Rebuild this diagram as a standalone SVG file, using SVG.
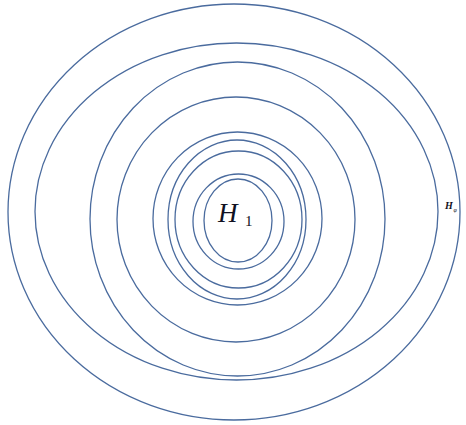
<svg xmlns="http://www.w3.org/2000/svg" width="466" height="425" viewBox="0 0 466 425">
<style>
.e{fill:none;stroke:#4a6b9e;stroke-width:1.3}
.t{font-family:"Liberation Serif",serif;font-style:italic;fill:#111122}
.s{font-family:"Liberation Serif",serif;font-style:normal;fill:#111122}
</style>
<rect width="466" height="425" fill="#ffffff"/>
<g id="ellipses">
<ellipse id="e1" class="e" cx="234" cy="212" rx="226" ry="208"/>
<ellipse id="e2" class="e" cx="236.5" cy="211.5" rx="201.5" ry="168.5"/>
<ellipse id="e3" class="e" cx="237.5" cy="219" rx="147.5" ry="157"/>
<ellipse id="e4" class="e" cx="236" cy="219.5" rx="119" ry="122.5"/>
<ellipse id="e5" class="e" cx="237.5" cy="218.5" rx="84.5" ry="86.5"/>
<ellipse id="e6" class="e" cx="237" cy="219.5" rx="69" ry="79.5"/>
<ellipse id="e7" class="e" cx="238.5" cy="219.5" rx="63.5" ry="68.5"/>
<ellipse id="e8" class="e" cx="238.5" cy="221.5" rx="45.5" ry="47.5"/>
<ellipse id="e9" class="e" cx="238" cy="220.5" rx="34" ry="41.5"/>
</g>
<g id="label-H1">
<text class="t" x="218" y="222" font-size="27">H</text>
<text class="s" x="245" y="226" font-size="15">1</text>
</g>
<g id="label-Hphi">
<text class="t" x="445" y="209" font-size="10" font-weight="bold">H</text>
<text class="t" x="453.5" y="212" font-size="6">φ</text>
</g>
</svg>
